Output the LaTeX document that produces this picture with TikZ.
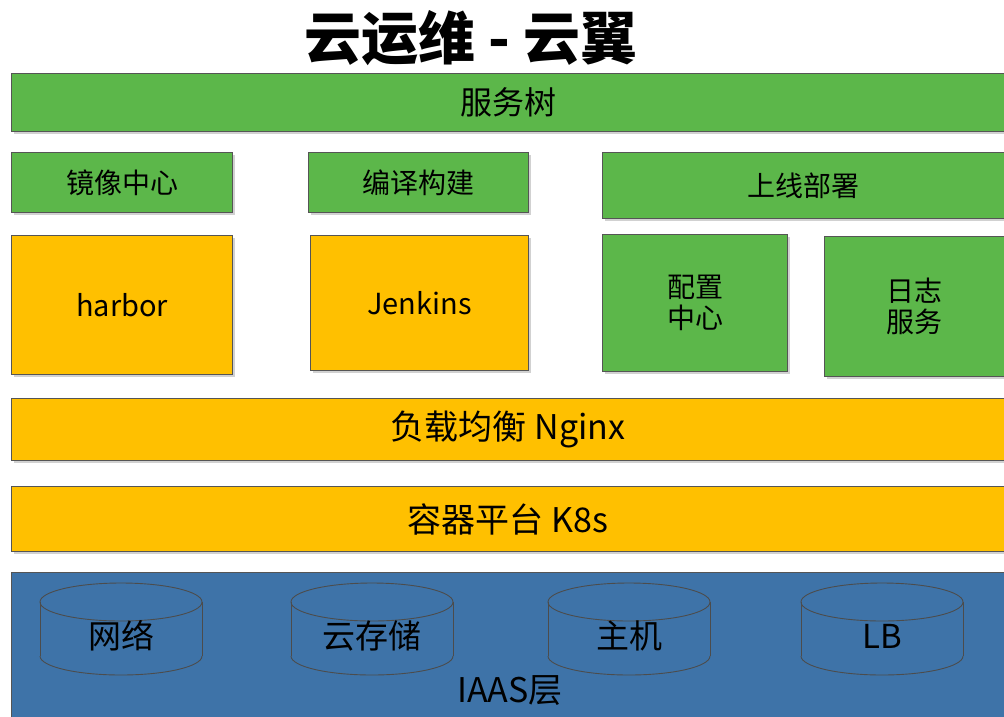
\documentclass[tikz,border=0pt]{standalone}
\usepackage{fontspec}
\setmainfont{Noto Sans CJK SC}
\usetikzlibrary{shadows}
\definecolor{gboxfill}{RGB}{92,183,74}
\definecolor{oboxfill}{RGB}{255,192,0}
\definecolor{bboxfill}{RGB}{62,115,168}
\definecolor{edgegray}{RGB}{85,85,85}
\begin{document}
\begin{tikzpicture}[x=1pt,y=-1pt,
  box/.style={draw=edgegray, line width=1.2pt, anchor=north west, inner sep=0pt, align=center,
    drop shadow={shadow xshift=2pt, shadow yshift=-2pt, fill=black, opacity=0.18}},
  gbox/.style={box, fill=gboxfill},
  obox/.style={box, fill=oboxfill},
  cyl/.style={draw=black!70, line width=0.9pt},
  lbl/.style={font=\fontsize{#1}{#1}\selectfont}]
\useasboundingbox (0,0) rectangle (1004,716);
\node[font=\fontsize{57}{57}\selectfont\bfseries] (title) at (471,38) {云运维 - 云翼};
\node[gbox, minimum width=993, minimum height=58, lbl=32] (fwtree) at (11,73) {服务树};
\node[gbox, minimum width=221, minimum height=60, lbl=28] (mirror) at (11,152) {镜像中心};
\node[gbox, minimum width=220, minimum height=60, lbl=28] (build) at (308,152) {编译构建};
\node[gbox, minimum width=402, minimum height=66, lbl=28] (deploy) at (602,152) {上线部署};
\node[obox, minimum width=221, minimum height=139, lbl=29] (harbor) at (11,235) {harbor};
\node[obox, minimum width=218, minimum height=135, lbl=29] (jenkins) at (310,235) {Jenkins};
\node[gbox, minimum width=185, minimum height=137, font=\fontsize{28}{31}\selectfont] (config) at (602,234) {配置\\中心};
\node[gbox, minimum width=180, minimum height=140, font=\fontsize{28}{31}\selectfont] (logs) at (824,236) {日志\\服务};
\node[obox, minimum width=993, minimum height=62, lbl=34] (nginx) at (11,398) {负载均衡 Nginx};
\node[obox, minimum width=993, minimum height=65, lbl=34] (k8s) at (11,486) {容器平台 K8s};
\node[box, fill=bboxfill, minimum width=993, minimum height=150] (iaas) at (11,572) {};
\node[lbl=34, anchor=center] (iaaslbl) at (510,691) {IAAS层};
\foreach \cx/\txt/\nm in {121/网络/net, 372/云存储/store, 629/主机/host, 882/LB/lb}{
  \draw[cyl] (\cx,602) ellipse [x radius=81, y radius=19];
  \draw[cyl] (\cx-81,602) -- (\cx-81,656);
  \draw[cyl] (\cx+81,602) -- (\cx+81,656);
  \draw[cyl] (\cx-81,656) arc[start angle=180, end angle=0, x radius=81, y radius=19];
  \node[lbl=33] (\nm) at (\cx,636) {\txt};
}
\end{tikzpicture}
\end{document}
